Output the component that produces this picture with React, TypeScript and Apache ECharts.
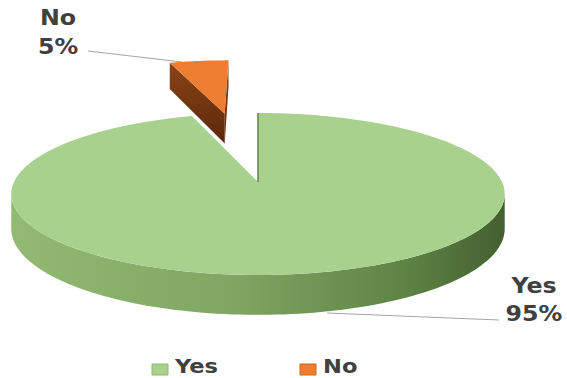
import React, { useEffect, useRef } from "react";
import * as echarts from "echarts";

const categories = ["Yes", "No"];
const values = [95, 5];
const topColors = ["#A9D18E", "#ED7D31"];
const explodeAmount = [0, 1.0];

// 3D projection layout
const CX = 258;
const CY = 182;
const A = 244;
const B = 79.2;
const C = 0.148;
const H = 34;

function proj(px: number, pz: number, h: number): [number, number] {
  const k = 1 / (1 + C * pz);
  return [CX + A * px * k, CY - B * pz * k + h * H * k];
}

const total = values.reduce((s, v) => s + v, 0);

function renderItem(params: any, api: any) {
  const i = params.dataIndex;
  let before = 0;
  for (let j = 0; j < i; j++) before += values[j];
  const TWO = Math.PI * 2;
  const start = (before / total) * TWO;
  const end = ((before + values[i]) / total) * TWO;
  const mid = (start + end) / 2;
  const ox = explodeAmount[i] * Math.sin(mid);
  const oz = explodeAmount[i] * Math.cos(mid);
  const P = (phi: number, r: number, h: number) =>
    proj(ox + r * Math.sin(phi), oz + r * Math.cos(phi), h);
  const base = i === 0 ? 10 : 0;
  const children: any[] = [];

  // outer wall
  const phi1 = Math.acos(-C);
  const phi2 = TWO - phi1;
  const a = Math.max(start, phi1);
  const b = Math.min(end, phi2);
  if (a < b) {
    const n = Math.max(4, Math.ceil(((b - a) / TWO) * 240));
    const pts: [number, number][] = [];
    for (let s = 0; s <= n; s++) pts.push(P(a + ((b - a) * s) / n, 1, 0));
    for (let s = n; s >= 0; s--) pts.push(P(a + ((b - a) * s) / n, 1, 1));
    const stops =
      i === 0
        ? [
            { offset: 0, color: "#93ba73" },
            { offset: 0.45, color: "#7fa662" },
            { offset: 0.8, color: "#5e8345" },
            { offset: 1, color: "#445f30" },
          ]
        : [
            { offset: 0, color: "#a9501a" },
            { offset: 1, color: "#6a300c" },
          ];
    children.push({
      type: "polygon",
      z2: base + 1,
      shape: { points: pts },
      style: { fill: new echarts.graphic.LinearGradient(0, 0, 1, 0, stops), stroke: null },
    });
  }

  // cut faces
  const camZ = -1 / C;
  const faceFill =
    i === 0
      ? new echarts.graphic.LinearGradient(0, 0, 0, 1, [
          { offset: 0, color: "#86ad68" },
          { offset: 1, color: "#5e8345" },
        ])
      : new echarts.graphic.LinearGradient(0, 0, 0, 1, [
          { offset: 0, color: "#8a4416" },
          { offset: 1, color: "#5b280a" },
        ]);
  const edges: [number, number, number][] = [
    [start, -Math.cos(start), Math.sin(start)],
    [end, Math.cos(end), -Math.sin(end)],
  ];
  edges.forEach(([phi, nx, nz]) => {
    const dot = nx * (0 - ox) + nz * (camZ - oz);
    if (dot > 0) {
      children.push({
        type: "polygon",
        z2: base + 1,
        shape: { points: [P(phi, 0, 0), P(phi, 1, 0), P(phi, 1, 1), P(phi, 0, 1)] },
        style: { fill: faceFill, stroke: null },
      });
    }
  });

  // top face
  const nt = Math.max(4, Math.ceil(((end - start) / TWO) * 360));
  const topPts: [number, number][] = [P(0, 0, 0)];
  for (let s = 0; s <= nt; s++) topPts.push(P(start + ((end - start) * s) / nt, 1, 0));
  children.push({
    type: "polygon",
    z2: base + 2,
    shape: { points: topPts },
    style: { fill: topColors[i], stroke: null },
  });

  if (i === 0) {
    const p0 = P(start, 0, 0);
    const p1 = P(start, 1, 0);
    children.push({
      type: "line",
      z2: base + 3,
      shape: { x1: p0[0], y1: p0[1], x2: p1[0], y2: p1[1] },
      style: { stroke: "#5f8446", lineWidth: 1.5 },
    });
  }

  return { type: "group", children };
}

const TEXT_COLOR = "#404040";

function label(text: string, x: number, y: number, align: string, size = 21) {
  return {
    type: "text",
    x,
    y,
    scaleX: 1.13,
    silent: true,
    style: {
      text,
      x: 0,
      y: 0,
      font: `bold ${size}px "DejaVu Sans"`,
      fill: TEXT_COLOR,
      textAlign: align,
      textVerticalAlign: "middle",
    },
  };
}

const pct = values.map((v) => Math.round((v / total) * 100) + "%");

export default function App() {
  const ref = useRef<HTMLDivElement>(null);
  useEffect(() => {
    if (!ref.current) return;
    const chart = echarts.init(ref.current, undefined, { renderer: "svg" });
    const graphic: any[] = [
      // No label
      label(categories[1], 58, 18, "center"),
      label(pct[1], 58, 47, "center"),
      {
        type: "line",
        silent: true,
        shape: { x1: 88, y1: 51, x2: 182, y2: 62 },
        style: { stroke: "#a6a6a6", lineWidth: 1.2 },
      },
      // Yes label
      label(categories[0], 534, 286, "center"),
      label(pct[0], 534, 314, "center"),
      {
        type: "line",
        silent: true,
        shape: { x1: 327, y1: 313, x2: 499, y2: 320 },
        style: { stroke: "#a6a6a6", lineWidth: 1.2 },
      },
    ];
    // legend
    const legendX = [152, 300];
    categories.forEach((c, i) => {
      graphic.push({
        type: "rect",
        silent: true,
        shape: { x: legendX[i], y: 364, width: 16, height: 11 },
        style: { fill: topColors[i], stroke: i === 0 ? "#8fb873" : "#d0661f", lineWidth: 1 },
      });
      graphic.push(label(c, legendX[i] + 23, 366, "left", 20));
    });

    chart.setOption({
      animation: false,
      series: [
        {
          type: "custom",
          coordinateSystem: "none",
          silent: true,
          data: values.map((v, i) => ({ name: categories[i], value: v })),
          renderItem,
        },
      ],
      graphic,
    });
    return () => chart.dispose();
  }, []);
  return (
    <div
      ref={ref}
      style={{ position: "fixed", left: 0, top: 0, width: 567, height: 378, background: "#ffffff" }}
    />
  );
}
